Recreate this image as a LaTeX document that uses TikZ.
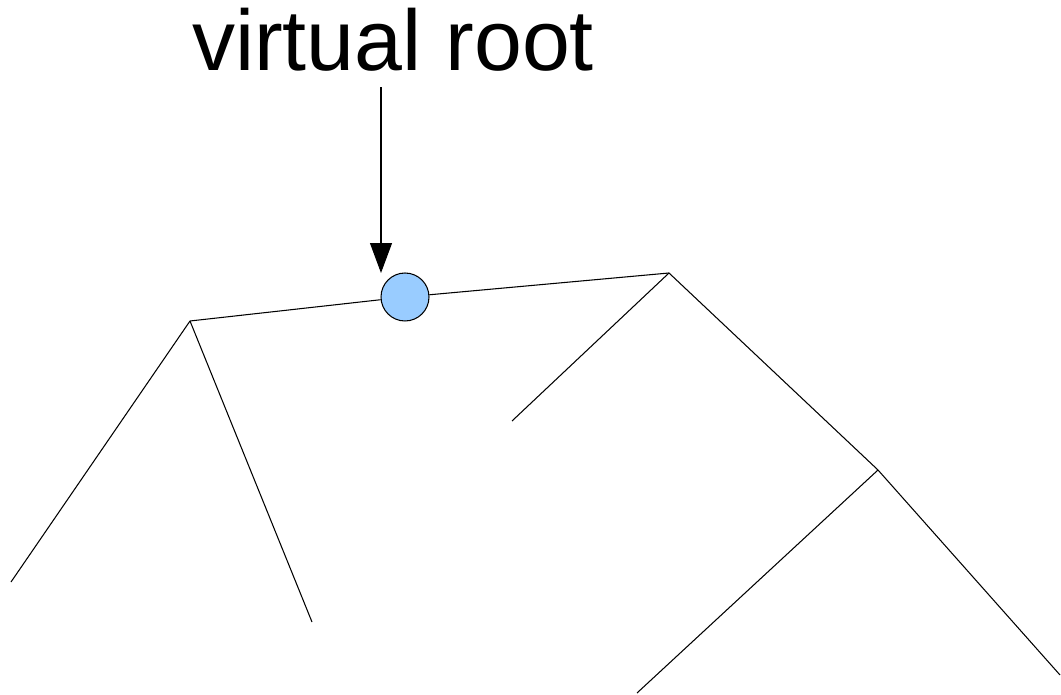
\documentclass[tikz,border=0pt]{standalone}
\usepackage{fontspec}
\setmainfont{Liberation Sans}
\usepackage{tikz}
\usetikzlibrary{arrows.meta, positioning}
\definecolor{cRoot}{RGB}{153,204,255}
\tikzset{
	edge/.style={draw=black, line width=0.6pt},
	rootnode/.style={circle, draw=black, line width=0.6pt, fill=cRoot, minimum size=0.96cm, inner sep=0pt},
	pointer/.style={-{Triangle[length=0.6cm, width=0.44cm]}, line width=0.6pt},
	bigtext/.style={font=\fontsize{49}{59}\selectfont, inner sep=0pt},
}
\begin{document}
\begin{tikzpicture}[x=0.02cm, y=-0.02cm]
	\useasboundingbox (0,0) rectangle (1061,695);
	% branching points and leaves
	\coordinate (a) at (190,321);
	\coordinate (b) at (669,273);
	\coordinate (c) at (878,470);
	\coordinate (a1) at (11,582);
	\coordinate (a2) at (312,622);
	\coordinate (b1) at (512,421);
	\coordinate (c1) at (637,693);
	\coordinate (c2) at (1060,675);
	\coordinate (tip) at (381,273);
	% the extra root
	\node[rootnode] (vr) at (405,297) {};
	\node[bigtext, anchor=base] (lbl) at (393,71) {virtual root};
	\draw[edge] (a) -- (vr);
	\draw[edge] (vr) -- (b);
	\draw[edge] (a) -- (a1);
	\draw[edge] (a) -- (a2);
	\draw[edge] (b) -- (b1);
	\draw[edge] (b) -- (c);
	\draw[edge] (c) -- (c1);
	\draw[edge] (c) -- (c2);
	\draw[pointer] (lbl.south -| tip) ++(0,15) -- (tip);
\end{tikzpicture}
\end{document}
